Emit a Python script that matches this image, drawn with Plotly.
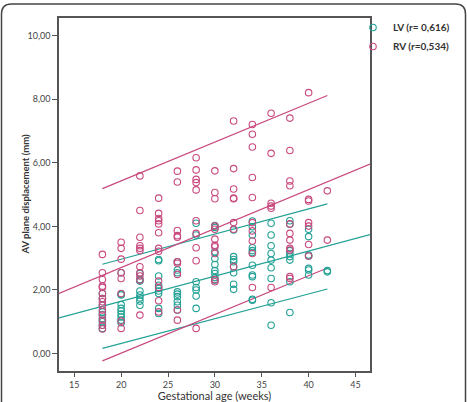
import plotly.graph_objects as go

# ---- data ----
lv_age = ([18]*9 + [20]*10 + [22]*8 + [24]*9 + [26]*9 + [28]*7 + [30]*9 + [32]*8 +
          [34]*11 + [36]*9 + [38]*8 + [40]*7 + [42]*2)
lv_val = [1.89, 1.73, 1.52, 1.31, 1.23, 1.10, 1.00, 0.89, 0.79,
          2.54, 1.87, 1.84, 1.54, 1.42, 1.34, 1.24, 1.05, 0.97, 1.15,
          2.52, 2.33, 2.28, 1.97, 1.84, 1.75, 1.65, 1.52,
          2.96, 2.92, 2.44, 2.15, 2.05, 1.97, 1.89, 1.42, 1.26,
          2.89, 2.63, 2.54, 1.94, 1.87, 1.79, 1.63, 1.52, 1.37,
          4.10, 3.73, 2.26, 2.08, 2.00, 1.81, 1.42,
          4.03, 3.97, 3.20, 2.99, 2.80, 2.61, 2.52, 2.39, 2.31,
          3.89, 3.05, 2.96, 2.89, 2.73, 2.54, 2.18, 2.02,
          4.17, 3.99, 3.73, 3.33, 3.24, 3.18, 2.78, 2.47, 2.42, 1.71, 1.68,
          4.10, 3.73, 3.39, 3.15, 2.94, 2.70, 2.36, 1.60, 0.89,
          4.18, 4.07, 3.24, 3.15, 3.05, 2.94, 2.26, 1.29,
          3.91, 3.68, 3.10, 3.07, 2.68, 2.63, 2.47,
          2.61, 2.57]

rv_age = ([18]*14 + [20]*8 + [22]*11 + [24]*12 + [26]*10 + [28]*10 + [30]*11 + [32]*8 +
          [34]*10 + [36]*6 + [38]*11 + [40]*7 + [42]*2)
rv_val = [3.12, 2.54, 2.33, 2.12, 2.08, 1.89, 1.73, 1.63, 1.52, 1.37, 1.21, 1.05, 0.89, 0.77,
          3.50, 3.31, 2.97, 2.54, 2.36, 1.89, 1.02, 0.79,
          5.59, 4.50, 3.66, 3.39, 3.31, 3.24, 2.73, 2.54, 2.44, 2.31, 1.21,
          4.89, 4.41, 4.25, 4.18, 4.08, 3.80, 3.31, 3.22, 2.28, 2.08, 1.66, 1.31,
          5.74, 5.40, 3.87, 3.71, 3.66, 2.89, 2.84, 2.49, 1.37, 1.05,
          6.16, 5.78, 5.48, 5.38, 5.15, 4.18, 3.78, 3.33, 2.92, 0.79,
          5.75, 5.07, 4.87, 4.01, 3.91, 3.60, 3.41, 3.36, 3.15, 2.33, 2.26,
          7.32, 5.82, 5.18, 4.89, 4.87, 4.12, 3.91, 2.73,
          7.21, 6.90, 6.50, 5.54, 4.91, 4.12, 3.86, 3.54, 3.15, 2.08,
          7.56, 6.30, 4.73, 4.64, 4.57, 2.08,
          7.41, 6.39, 5.43, 5.28, 4.08, 3.78, 3.57, 3.31, 3.26, 2.42, 2.36,
          8.21, 4.85, 4.80, 4.12, 4.01, 3.43, 3.07,
          5.12, 3.57]

# regression lines (fit spans axis range; prediction limits span 18-42 weeks)
fit_x = [13.37, 46.55]
lv_fit_y = [1.12, 3.74]
rv_fit_y = [1.89, 5.96]
pi_x = [18, 42]
lv_hi_y = [2.81, 4.71]
lv_lo_y = [0.16, 2.03]
rv_hi_y = [5.19, 8.12]
rv_lo_y = [-0.23, 2.69]

legend_names = ["LV (r= 0,616)", "RV (r=0,534)"]
x_ticks = [15, 20, 25, 30, 35, 40, 45]
y_ticks = [0, 2, 4, 6, 8, 10]
x_title = "Gestational age (weeks)"
y_title = "AV plane displacement (mm)"

LV_C = "#22a195"
RV_C = "#c8497e"
FONT = "Lato"

fig = go.Figure()
for xs, ys, c in [(fit_x, lv_fit_y, LV_C), (pi_x, lv_hi_y, LV_C), (pi_x, lv_lo_y, LV_C),
                  (fit_x, rv_fit_y, RV_C), (pi_x, rv_hi_y, RV_C), (pi_x, rv_lo_y, RV_C)]:
    fig.add_trace(go.Scatter(x=xs, y=ys, mode="lines", line=dict(color=c, width=1.2),
                             showlegend=False, hoverinfo="skip"))

fig.add_trace(go.Scatter(x=lv_age, y=lv_val, mode="markers", name="<b>" + legend_names[0] + "</b>",
                         marker=dict(symbol="circle-open", size=6.5, color=LV_C,
                                     line=dict(width=1.1, color=LV_C))))
fig.add_trace(go.Scatter(x=rv_age, y=rv_val, mode="markers", name="<b>" + legend_names[1] + "</b>",
                         marker=dict(symbol="circle-open", size=6.5, color=RV_C,
                                     line=dict(width=1.1, color=RV_C))))

L, R, T, B = 59, 97, 18, 31
W, H = 467, 402
pw, ph = W - L - R, H - T - B

def px(x):
    return (x - L) / pw

def py(y):
    return (H - B - y) / ph

# outer rounded frame
x0, x1, y0, y1, r = 1.5, 465.5, 4, 410, 10
path = (f"M {px(x0+r)},{py(y0)} L {px(x1-r)},{py(y0)} "
        f"Q {px(x1)},{py(y0)} {px(x1)},{py(y0+r)} L {px(x1)},{py(y1)} "
        f"L {px(x0)},{py(y1)} L {px(x0)},{py(y0+r)} Q {px(x0)},{py(y0)} {px(x0+r)},{py(y0)} Z")

fig.update_layout(
    template="none",
    width=W, height=H,
    margin=dict(l=L, r=R, t=T, b=B, autoexpand=False),
    paper_bgcolor="white", plot_bgcolor="white",
    separators=",.",
    font=dict(family=FONT, color="#333333", size=10),
    showlegend=True,
    legend=dict(x=px(353), y=py(13), xanchor="left", yanchor="top",
                bgcolor="rgba(0,0,0,0)", borderwidth=0,
                font=dict(size=10, color="#333333", family=FONT),
                tracegroupgap=0, itemwidth=30),
    shapes=[dict(type="path", path=path, xref="paper", yref="paper",
                 line=dict(color="#444444", width=1.5), fillcolor="rgba(0,0,0,0)", layer="above")],
    annotations=[dict(text="<b>" + y_title + "</b>", textangle=-90, xref="paper", yref="paper",
                      x=px(25), y=0.5, xanchor="center", yanchor="middle", showarrow=False,
                      font=dict(size=9.5, color="#333333", family=FONT))],
    xaxis=dict(range=[13.37, 46.55], tickvals=x_ticks, showgrid=False, zeroline=False,
               automargin=False,
               showline=True, linecolor="#555555", linewidth=1.5, mirror=True,
               ticks="outside", ticklen=4, tickcolor="#555555",
               tickfont=dict(size=9, color="#444444"),
               title=dict(text=x_title, font=dict(size=11, color="#333333"),
                          standoff=3)),
    yaxis=dict(range=[-0.55, 10.56], tickvals=y_ticks, tickformat=".2f", showgrid=False,
               automargin=False,
               zeroline=False, showline=True, linecolor="#555555", linewidth=1.5, mirror=True,
               ticks="outside", ticklen=5, tickcolor="#555555",
               tickfont=dict(size=9, color="#444444")),
)

fig.write_html("out.html")
